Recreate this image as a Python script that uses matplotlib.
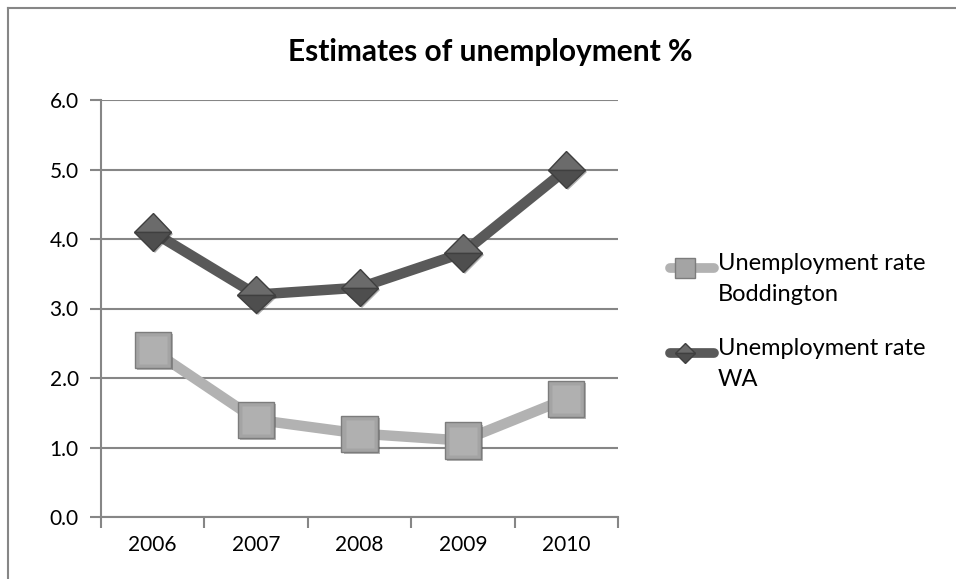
import matplotlib
matplotlib.use('Agg')
import matplotlib.pyplot as plt
import matplotlib.patheffects as pe
from matplotlib.lines import Line2D

years = ['2006', '2007', '2008', '2009', '2010']
boddington = [2.4, 1.4, 1.2, 1.1, 1.7]
wa = [4.1, 3.2, 3.3, 3.8, 5.0]
yticks = [0.0, 1.0, 2.0, 3.0, 4.0, 5.0, 6.0]
labels = ['Unemployment rate\nBoddington', 'Unemployment rate\nWA']

plt.rcParams['font.family'] = ['Lato', 'DejaVu Sans']

W, H = 956, 579
fig = plt.figure(figsize=(W / 100, H / 100), dpi=100)
ax = fig.add_axes([101 / W, 1 - 517 / H, 517 / W, 417 / H])

x = list(range(len(years)))
shadow = [pe.SimplePatchShadow(offset=(1.5, -1.5), alpha=0.35), pe.Normal()]

light = dict(color='#b2b2b2', mfc='#a4a4a4', mec='#7c7c7c')
dark = dict(color='#595959', mfc='#6b6b6b', mfcalt='#4e4e4e', mec='#3f3f3f')

# Boddington series: light grey line, bevelled squares
ax.plot(x, boddington, color=light['color'], lw=7.5, solid_capstyle='round', zorder=3)
ax.plot(x, boddington, ls='none', marker='s', ms=26, mfc=light['mfc'], mec=light['mec'],
        mew=1.0, zorder=4, path_effects=shadow)
ax.plot(x, boddington, ls='none', marker='s', ms=20, mfc='#b0b0b0', mec='none', zorder=5)

# WA series: dark grey line, two-tone diamonds
ax.plot(x, wa, color=dark['color'], lw=7.5, solid_capstyle='round', zorder=3)
ax.plot(x, wa, ls='none', marker='D', ms=19, fillstyle='top', mfc=dark['mfc'],
        mfcalt=dark['mfcalt'], mec=dark['mec'], mew=1.0, zorder=4, path_effects=shadow)

ax.set_xlim(-0.5, 4.5)
ax.set_ylim(0, 6)
ax.set_yticks(yticks)
ax.set_yticklabels([f'{v:.1f}' for v in yticks])
ax.set_xticks(x)
ax.set_xticklabels(years)
ax.set_xticks([i - 0.5 for i in range(len(years) + 1)], minor=True)
ax.tick_params(axis='x', which='major', length=0, pad=13, labelsize=15)
ax.tick_params(axis='x', which='minor', length=8, width=1.5, color='#868686', direction='out')
ax.tick_params(axis='y', length=8, width=1.5, color='#868686', pad=8, labelsize=15)

ax.grid(axis='y', color='#868686', lw=1.5)
ax.set_axisbelow(True)
for side in ['top', 'right']:
    ax.spines[side].set_visible(False)
for side in ['left', 'bottom']:
    ax.spines[side].set_color('#868686')
    ax.spines[side].set_linewidth(1.5)

fig.text(490 / W, 1 - 52 / H, 'Estimates of unemployment %', ha='center', va='center',
         fontsize=21.5, fontweight='bold')

# legend drawn by hand so the key sits beside the first line of each label
entries = [(268, 's', 14, light, labels[0]), (353, 'D', 10, dark, labels[1])]
for ypix, mk, ms, st, text in entries:
    yf = 1 - ypix / H
    fig.add_artist(Line2D([670 / W, 714 / W], [yf, yf], color=st['color'], lw=7,
                          solid_capstyle='round'))
    kw = dict(mfcalt=st['mfcalt'], fillstyle='top') if mk == 'D' else {}
    fig.add_artist(Line2D([685 / W], [yf], ls='none', marker=mk, ms=ms, mfc=st['mfc'],
                          mec=st['mec'], mew=1.0, **kw))
    fig.text(718 / W, 1 - (ypix - 15) / H, text, ha='left', va='top', fontsize=17,
             linespacing=1.6)

# outer chart frame (left and top edges)
fig.add_artist(Line2D([8 / W, 8 / W], [0, 1 - 8 / H], color='#868686', lw=1.5))
fig.add_artist(Line2D([8 / W, 1], [1 - 8 / H, 1 - 8 / H], color='#868686', lw=1.5))

fig.savefig('out.png', dpi=100)
